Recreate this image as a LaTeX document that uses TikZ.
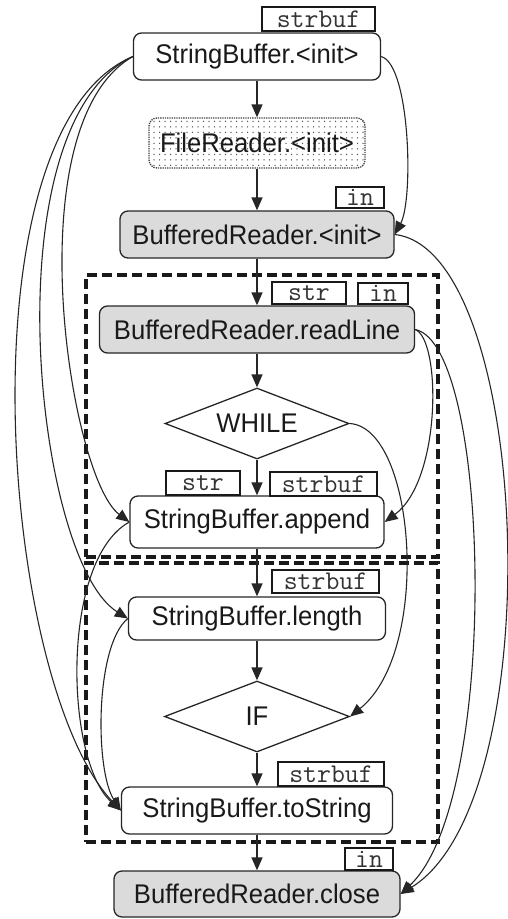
\documentclass[tikz,border=0pt]{standalone}
\usepackage{fontspec}
\setmainfont{Liberation Sans}[FakeStretch=0.95]
\usetikzlibrary{shapes.geometric,arrows.meta,patterns.meta}
\begin{document}
\begin{tikzpicture}[x=1pt,y=-1pt,
  box/.style={draw=black!85, line width=1.3pt, rounded corners=8pt, inner sep=0pt,
    font=\fontsize{27}{30}\selectfont, text=black!90},
  greybox/.style={box, fill=gray!28},
  dotbox/.style={box, draw=black!75, densely dotted, pattern={Dots[radius=0.75pt,distance=5.5pt]}, pattern color=black!65},
  decision/.style={diamond, draw=black!85, line width=1.3pt, inner sep=0pt, shape aspect=2.6,
    font=\fontsize{27}{30}\selectfont, text=black!90},
  tag/.style={draw=black!90, line width=1.3pt, inner sep=0pt, fill=white,
    font=\ttfamily\fontsize{27}{27}\selectfont, text=black!80},
  group/.style={draw=black!90, line width=3.2pt, dash pattern=on 10pt off 5pt},
  arr/.style={draw=black!85, line width=1.3pt, -{Triangle[length=13pt,width=11pt]}},
  link/.style={draw=black!85, line width=1.1pt, -{Triangle[length=13pt,width=11pt]}}
]
\useasboundingbox (0,0) rectangle (507,919);

% groups
\node[group, minimum width=352pt, minimum height=282pt, inner sep=0pt] (loopgrp) at (262,416) {};
\node[group, minimum width=352pt, minimum height=279pt, inner sep=0pt] (ifgrp) at (262,702.5) {};

% main nodes
\node[box, minimum width=247pt, minimum height=47pt] (sbinit) at (257,56.5) {StringBuffer.<init>};
\node[dotbox, minimum width=216pt, minimum height=50pt] (frinit) at (257,143) {FileReader.<init>};
\node[greybox, minimum width=274pt, minimum height=47pt] (brinit) at (257,234.5) {BufferedReader.<init>};
\node[greybox, minimum width=315pt, minimum height=47pt] (readline) at (257,329.5) {BufferedReader.readLine};
\node[decision, minimum width=184pt, minimum height=71pt] (wh) at (257,423.5) {WHILE};
\node[box, minimum width=254pt, minimum height=52pt] (append) at (257,522) {StringBuffer.append};
\node[box, minimum width=257pt, minimum height=43pt] (length) at (257,618.5) {StringBuffer.length};
\node[decision, minimum width=185pt, minimum height=71pt] (ifd) at (257,716.5) {IF};
\node[box, minimum width=271pt, minimum height=47pt] (tostring) at (257,810.5) {StringBuffer.toString};
\node[greybox, minimum width=286pt, minimum height=46pt] (brclose) at (257,894) {BufferedReader.close};

% tags
\node[tag, minimum width=113pt, minimum height=24pt] (t1) at (318.5,19) {strbuf};
\node[tag, minimum width=48pt, minimum height=21pt] (t2) at (360,197.5) {in};
\node[tag, minimum width=74pt, minimum height=22pt] (t3) at (309,293) {str};
\node[tag, minimum width=50pt, minimum height=21pt] (t4) at (383,293.5) {in};
\node[tag, minimum width=74pt, minimum height=24pt] (t5) at (203,483) {str};
\node[tag, minimum width=107pt, minimum height=24pt] (t6) at (323.5,484) {strbuf};
\node[tag, minimum width=107pt, minimum height=23pt] (t7) at (325.5,581.5) {strbuf};
\node[tag, minimum width=106pt, minimum height=24pt] (t8) at (331,774) {strbuf};
\node[tag, minimum width=48pt, minimum height=22pt] (t9) at (369,859) {in};

% straight flow
\draw[arr] (sbinit) -- (frinit);
\draw[arr] (frinit) -- (brinit);
\draw[arr] (brinit) -- (readline);
\draw[arr] (readline) -- (wh);
\draw[arr] (wh) -- (append);
\draw[arr] (append) -- (length);
\draw[arr] (length) -- (ifd);
\draw[arr] (ifd) -- (tostring);
\draw[arr] (tostring) -- (brclose);

% left curves
\draw[link] (sbinit.west) .. controls +(-173.5,73) and +(-121.5,-129) .. (tostring.west);
\draw[link] (sbinit.west) .. controls +(-143.5,68) and +(-93.5,-58.5) .. (length.west);
\draw[link] (sbinit.west) .. controls +(-118.5,68) and +(-60,-45) .. (append.west);
\draw[link] (append.west) .. controls +(-69,38) and +(-56,-50) .. (tostring.west);
\draw[link] (length.west) .. controls +(-33,27) and +(-26,-40) .. (tostring.west);

% right curves
\draw[link] (sbinit.east) .. controls +(29,8) and +(19,-35) .. (brinit.east);
\draw[link] (brinit.east) .. controls +(137,15) and +(152,-94) .. (brclose.east);
\draw[link] (readline.east) .. controls +(26,10) and +(57,-42) .. (append.east);
\draw[link] (readline.east) .. controls +(76,15) and +(100,-94) .. (brclose.east);
\draw[link] (wh.east) .. controls +(66,4) and +(82,-66) .. (ifd.east);
\end{tikzpicture}
\end{document}
